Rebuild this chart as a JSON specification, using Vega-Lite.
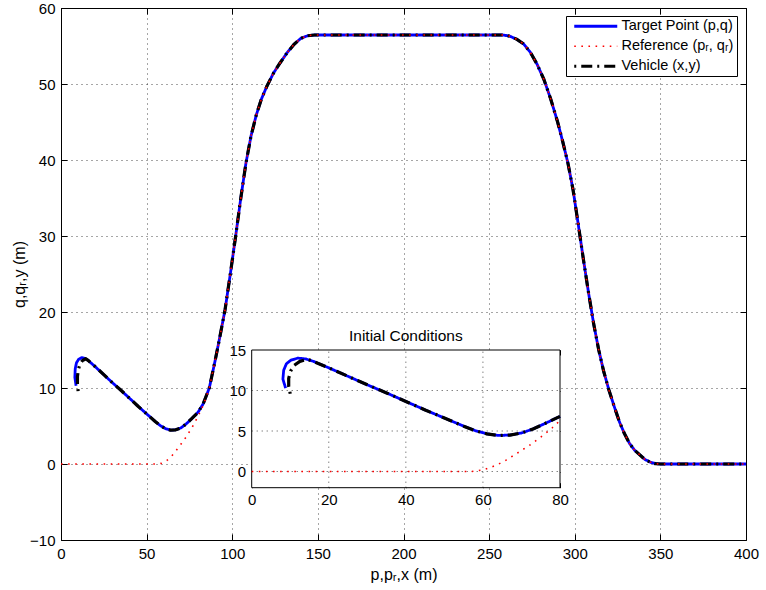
{
  "$schema": "https://vega.github.io/schema/vega-lite/v6.json",
  "width": 685,
  "height": 532,
  "autosize": {"type": "none"},
  "padding": {"left": 61, "top": 8, "right": 20, "bottom": 50},
  "background": "white",
  "config": {
    "font": "Liberation Sans",
    "view": {"stroke": "black", "strokeWidth": 1},
    "axis": {"labelColor": "black", "titleColor": "black", "tickColor": "black", "labelOverlap": false, "labelFlush": false, "titleFontWeight": "normal"}
  },
  "datasets": {
    "main": [
      {"s":"T","t":0,"x":8.8,"y":10.3},{"s":"T","t":1,"x":8.1,"y":11.4},{"s":"T","t":2,"x":8.3,"y":12.5},{"s":"T","t":3,"x":9,"y":13.3},{"s":"T","t":4,"x":10.2,"y":13.75},{"s":"T","t":5,"x":12,"y":14},{"s":"T","t":6,"x":14,"y":13.9},{"s":"T","t":7,"x":16,"y":13.6},{"s":"T","t":8,"x":20,"y":12.8},{"s":"T","t":9,"x":25,"y":11.75},{"s":"T","t":10,"x":30,"y":10.7},{"s":"T","t":11,"x":35,"y":9.7},{"s":"T","t":12,"x":40,"y":8.65},{"s":"T","t":13,"x":45,"y":7.6},{"s":"T","t":14,"x":50,"y":6.6},{"s":"T","t":15,"x":55,"y":5.6},{"s":"T","t":16,"x":58,"y":5.05},{"s":"T","t":17,"x":61,"y":4.65},{"s":"T","t":18,"x":64,"y":4.45},{"s":"T","t":19,"x":67,"y":4.5},{"s":"T","t":20,"x":70,"y":4.75},{"s":"T","t":21,"x":73,"y":5.25},{"s":"T","t":22,"x":76,"y":5.9},{"s":"T","t":23,"x":80,"y":6.8},{"s":"T","t":24,"x":83,"y":7.9},
      {"s":"T","t":25,"x":86.6,"y":10},{"s":"T","t":26,"x":90,"y":13.6},{"s":"T","t":27,"x":93,"y":17},{"s":"T","t":28,"x":95.8,"y":20.3},{"s":"T","t":29,"x":99,"y":25.2},{"s":"T","t":30,"x":102,"y":30},{"s":"T","t":31,"x":105,"y":35},{"s":"T","t":32,"x":108,"y":39.6},{"s":"T","t":33,"x":111,"y":43.2},{"s":"T","t":34,"x":114,"y":45.9},{"s":"T","t":35,"x":117,"y":48},{"s":"T","t":36,"x":120,"y":49.6},{"s":"T","t":37,"x":124,"y":51.4},{"s":"T","t":38,"x":128,"y":52.8},{"s":"T","t":39,"x":132,"y":54.1},{"s":"T","t":40,"x":136,"y":55.2},{"s":"T","t":41,"x":140,"y":56},{"s":"T","t":42,"x":144,"y":56.35},{"s":"T","t":43,"x":148,"y":56.45},{"s":"T","t":44,"x":200,"y":56.45},{"s":"T","t":45,"x":258,"y":56.45},{"s":"T","t":46,"x":262,"y":56.3},{"s":"T","t":47,"x":266,"y":55.9},{"s":"T","t":48,"x":270,"y":55.3},{"s":"T","t":49,"x":274,"y":54.2},{"s":"T","t":50,"x":278,"y":52.6},{"s":"T","t":51,"x":282,"y":50.6},{"s":"T","t":52,"x":286,"y":48},{"s":"T","t":53,"x":290,"y":45},{"s":"T","t":54,"x":293,"y":42.4},{"s":"T","t":55,"x":296,"y":39.6},{"s":"T","t":56,"x":299,"y":36.1},{"s":"T","t":57,"x":302,"y":31.6},{"s":"T","t":58,"x":305,"y":27},{"s":"T","t":59,"x":308,"y":22.6},{"s":"T","t":60,"x":311,"y":18.5},{"s":"T","t":61,"x":314,"y":15},{"s":"T","t":62,"x":317,"y":12.1},{"s":"T","t":63,"x":320,"y":9.7},{"s":"T","t":64,"x":323,"y":7.6},{"s":"T","t":65,"x":326,"y":5.6},{"s":"T","t":66,"x":329,"y":4},{"s":"T","t":67,"x":332,"y":2.7},{"s":"T","t":68,"x":335,"y":1.8},{"s":"T","t":69,"x":338,"y":1.2},{"s":"T","t":70,"x":341,"y":0.6},{"s":"T","t":71,"x":344,"y":0.25},{"s":"T","t":72,"x":347,"y":0.05},{"s":"T","t":73,"x":350,"y":0},{"s":"T","t":74,"x":400,"y":0},

      {"s":"V","t":0,"x":10,"y":9.6},{"s":"V","t":1,"x":9.6,"y":10.5},{"s":"V","t":2,"x":9.6,"y":11.5},{"s":"V","t":3,"x":10.1,"y":12.4},{"s":"V","t":4,"x":11,"y":13.1},{"s":"V","t":5,"x":12.5,"y":13.6},{"s":"V","t":6,"x":14.5,"y":13.85},{"s":"V","t":7,"x":16,"y":13.6},{"s":"V","t":8,"x":20,"y":12.8},{"s":"V","t":9,"x":25,"y":11.75},{"s":"V","t":10,"x":30,"y":10.7},{"s":"V","t":11,"x":35,"y":9.7},{"s":"V","t":12,"x":40,"y":8.65},{"s":"V","t":13,"x":45,"y":7.6},{"s":"V","t":14,"x":50,"y":6.6},{"s":"V","t":15,"x":55,"y":5.6},{"s":"V","t":16,"x":58,"y":5.05},{"s":"V","t":17,"x":61,"y":4.65},{"s":"V","t":18,"x":64,"y":4.45},{"s":"V","t":19,"x":67,"y":4.5},{"s":"V","t":20,"x":70,"y":4.75},{"s":"V","t":21,"x":73,"y":5.25},{"s":"V","t":22,"x":76,"y":5.9},{"s":"V","t":23,"x":80,"y":6.8},{"s":"V","t":24,"x":83,"y":7.9},
      {"s":"V","t":25,"x":86.6,"y":10},{"s":"V","t":26,"x":90,"y":13.6},{"s":"V","t":27,"x":93,"y":17},{"s":"V","t":28,"x":95.8,"y":20.3},{"s":"V","t":29,"x":99,"y":25.2},{"s":"V","t":30,"x":102,"y":30},{"s":"V","t":31,"x":105,"y":35},{"s":"V","t":32,"x":108,"y":39.6},{"s":"V","t":33,"x":111,"y":43.2},{"s":"V","t":34,"x":114,"y":45.9},{"s":"V","t":35,"x":117,"y":48},{"s":"V","t":36,"x":120,"y":49.6},{"s":"V","t":37,"x":124,"y":51.4},{"s":"V","t":38,"x":128,"y":52.8},{"s":"V","t":39,"x":132,"y":54.1},{"s":"V","t":40,"x":136,"y":55.2},{"s":"V","t":41,"x":140,"y":56},{"s":"V","t":42,"x":144,"y":56.35},{"s":"V","t":43,"x":148,"y":56.45},{"s":"V","t":44,"x":200,"y":56.45},{"s":"V","t":45,"x":258,"y":56.45},{"s":"V","t":46,"x":262,"y":56.3},{"s":"V","t":47,"x":266,"y":55.9},{"s":"V","t":48,"x":270,"y":55.3},{"s":"V","t":49,"x":274,"y":54.2},{"s":"V","t":50,"x":278,"y":52.6},{"s":"V","t":51,"x":282,"y":50.6},{"s":"V","t":52,"x":286,"y":48},{"s":"V","t":53,"x":290,"y":45},{"s":"V","t":54,"x":293,"y":42.4},{"s":"V","t":55,"x":296,"y":39.6},{"s":"V","t":56,"x":299,"y":36.1},{"s":"V","t":57,"x":302,"y":31.6},{"s":"V","t":58,"x":305,"y":27},{"s":"V","t":59,"x":308,"y":22.6},{"s":"V","t":60,"x":311,"y":18.5},{"s":"V","t":61,"x":314,"y":15},{"s":"V","t":62,"x":317,"y":12.1},{"s":"V","t":63,"x":320,"y":9.7},{"s":"V","t":64,"x":323,"y":7.6},{"s":"V","t":65,"x":326,"y":5.6},{"s":"V","t":66,"x":329,"y":4},{"s":"V","t":67,"x":332,"y":2.7},{"s":"V","t":68,"x":335,"y":1.8},{"s":"V","t":69,"x":338,"y":1.2},{"s":"V","t":70,"x":341,"y":0.6},{"s":"V","t":71,"x":344,"y":0.25},{"s":"V","t":72,"x":347,"y":0.05},{"s":"V","t":73,"x":350,"y":0},{"s":"V","t":74,"x":400,"y":0},

      {"s":"R","t":0,"x":0,"y":0},{"s":"R","t":1,"x":57,"y":0},{"s":"R","t":2,"x":58.5,"y":0.08},{"s":"R","t":3,"x":60,"y":0.2},{"s":"R","t":4,"x":62,"y":0.5},{"s":"R","t":5,"x":64,"y":0.9},{"s":"R","t":6,"x":66,"y":1.4},{"s":"R","t":7,"x":68,"y":2},{"s":"R","t":8,"x":70,"y":2.6},{"s":"R","t":9,"x":72,"y":3.2},{"s":"R","t":10,"x":74,"y":3.9},{"s":"R","t":11,"x":76,"y":4.6},{"s":"R","t":12,"x":78,"y":5.4},{"s":"R","t":13,"x":80,"y":6.3},{"s":"R","t":14,"x":82,"y":7.2},{"s":"R","t":15,"x":84,"y":8.3},
      {"s":"R","t":25,"x":86.6,"y":10},{"s":"R","t":26,"x":90,"y":13.6},{"s":"R","t":27,"x":93,"y":17},{"s":"R","t":28,"x":95.8,"y":20.3},{"s":"R","t":29,"x":99,"y":25.2},{"s":"R","t":30,"x":102,"y":30},{"s":"R","t":31,"x":105,"y":35},{"s":"R","t":32,"x":108,"y":39.6},{"s":"R","t":33,"x":111,"y":43.2},{"s":"R","t":34,"x":114,"y":45.9},{"s":"R","t":35,"x":117,"y":48},{"s":"R","t":36,"x":120,"y":49.6},{"s":"R","t":37,"x":124,"y":51.4},{"s":"R","t":38,"x":128,"y":52.8},{"s":"R","t":39,"x":132,"y":54.1},{"s":"R","t":40,"x":136,"y":55.2},{"s":"R","t":41,"x":140,"y":56},{"s":"R","t":42,"x":144,"y":56.35},{"s":"R","t":43,"x":148,"y":56.45},{"s":"R","t":44,"x":200,"y":56.45},{"s":"R","t":45,"x":258,"y":56.45},{"s":"R","t":46,"x":262,"y":56.3},{"s":"R","t":47,"x":266,"y":55.9},{"s":"R","t":48,"x":270,"y":55.3},{"s":"R","t":49,"x":274,"y":54.2},{"s":"R","t":50,"x":278,"y":52.6},{"s":"R","t":51,"x":282,"y":50.6},{"s":"R","t":52,"x":286,"y":48},{"s":"R","t":53,"x":290,"y":45},{"s":"R","t":54,"x":293,"y":42.4},{"s":"R","t":55,"x":296,"y":39.6},{"s":"R","t":56,"x":299,"y":36.1},{"s":"R","t":57,"x":302,"y":31.6},{"s":"R","t":58,"x":305,"y":27},{"s":"R","t":59,"x":308,"y":22.6},{"s":"R","t":60,"x":311,"y":18.5},{"s":"R","t":61,"x":314,"y":15},{"s":"R","t":62,"x":317,"y":12.1},{"s":"R","t":63,"x":320,"y":9.7},{"s":"R","t":64,"x":323,"y":7.6},{"s":"R","t":65,"x":326,"y":5.6},{"s":"R","t":66,"x":329,"y":4},{"s":"R","t":67,"x":332,"y":2.7},{"s":"R","t":68,"x":335,"y":1.8},{"s":"R","t":69,"x":338,"y":1.2},{"s":"R","t":70,"x":341,"y":0.6},{"s":"R","t":71,"x":344,"y":0.25},{"s":"R","t":72,"x":347,"y":0.05},{"s":"R","t":73,"x":350,"y":0},{"s":"R","t":74,"x":400,"y":0}
    ]
  },
  "layer": [
    {
      "data": {"name": "main"},
      "encoding": {
        "x": {"field": "x", "type": "quantitative", "scale": {"domain": [0, 400], "nice": false, "zero": false},
          "axis": {"orient": "bottom", "title": "p,pᵣ,x (m)", "values": [0,50,100,150,200,250,300,350,400], "grid": true, "gridDash": [1,4], "gridColor": "black", "gridOpacity": 0.7, "tickSize": -6, "labelPadding": 12, "labelFontSize": 15, "titleFontSize": 16, "titlePadding": 5, "domain": false}},
        "y": {"field": "y", "type": "quantitative", "scale": {"domain": [-10, 60], "nice": false, "zero": false},
          "axis": {"orient": "left", "title": "q,qᵣ,y (m)", "values": [-10,0,10,20,30,40,50,60], "grid": true, "gridDash": [1,4], "gridColor": "black", "gridOpacity": 0.7, "tickSize": -6, "labelPadding": 12, "labelFontSize": 15, "titleFontSize": 16, "titlePadding": 2, "domain": false}},
        "order": {"field": "t", "type": "quantitative"},
        "color": {"field": "s", "type": "nominal", "scale": {"domain": ["T","R","V"], "range": ["#0000ff","#ff0000","#000000"]},
          "legend": {"title": null, "orient": "none", "legendX": 505, "legendY": 8, "fillColor": "white", "strokeColor": "black", "padding": 3, "labelFontSize": 14.5, "labelColor": "black", "symbolType": "M-1,0H4.375", "symbolSize": 256, "symbolOffset": 6, "labelOffset": 32, "rowPadding": 5,
            "labelExpr": "datum.label == 'T' ? 'Target Point (p,q)' : datum.label == 'R' ? 'Reference (pᵣ, qᵣ)' : 'Vehicle (x,y)'",
            "encode": {"symbols": {"update": {"strokeWidth": {"signal": "datum.value == 'R' ? 1.6 : 3"}}}}}},
        "strokeDash": {"field": "s", "type": "nominal", "scale": {"domain": ["T","R","V"], "range": [[1,0],[1.6,5.5],[2,5,11,5]]}, "legend": {"title": null}}
      },
      "layer": [
        {"transform": [{"filter": "datum.s == 'T'"}], "mark": {"type": "line", "strokeWidth": 2.8, "strokeCap": "butt", "strokeJoin": "round"}},
        {"transform": [{"filter": "datum.s == 'V'"}], "mark": {"type": "line", "strokeWidth": 3.2, "strokeCap": "butt", "strokeJoin": "round"}},
        {"transform": [{"filter": "datum.s == 'R'"}], "mark": {"type": "line", "strokeWidth": 1.6, "strokeCap": "butt", "strokeJoin": "round"}}
      ]
    },
    {
      "layer": [
        {
          "data": {"values": [{}]},
          "mark": {"type": "rect", "fill": "white", "stroke": "black", "strokeWidth": 1},
          "encoding": {
            "x": {"datum": 0, "type": "quantitative", "scale": {"domain": [0, 80], "nice": false, "zero": false, "range": [190.7, 499]},
              "axis": {"orient": "bottom", "offset": -52.3, "title": null, "values": [0,20,40,60,80], "grid": false, "tickSize": -5, "labelPadding": 10, "labelFontSize": 15, "domain": false}},
            "x2": {"datum": 80},
            "y": {"datum": -2, "type": "quantitative", "scale": {"domain": [-2, 15], "nice": false, "zero": false, "range": [479.7, 342]},
              "axis": {"orient": "left", "offset": -190.7, "title": null, "values": [0,5,10,15], "grid": false, "tickSize": -5, "labelPadding": 11, "labelFontSize": 15, "domain": false}},
            "y2": {"datum": 15}
          }
        },
        {
          "data": {"values": [{"g": 20}, {"g": 40}, {"g": 60}]},
          "mark": {"type": "rule", "color": "black", "strokeDash": [1,4], "opacity": 0.7},
          "encoding": {"x": {"field": "g", "type": "quantitative"}, "y": {"datum": -2}, "y2": {"datum": 15}}
        },
        {
          "data": {"values": [{"g": 0}, {"g": 5}, {"g": 10}]},
          "mark": {"type": "rule", "color": "black", "strokeDash": [1,4], "opacity": 0.7},
          "encoding": {"y": {"field": "g", "type": "quantitative"}, "x": {"datum": 0}, "x2": {"datum": 80}}
        },
        {
          "data": {"name": "main"},
          "encoding": {
            "x": {"field": "x", "type": "quantitative"},
            "y": {"field": "y", "type": "quantitative"},
            "order": {"field": "t", "type": "quantitative"},
            "color": {"field": "s", "type": "nominal"},
            "strokeDash": {"field": "s", "type": "nominal"}
          },
          "layer": [
            {"transform": [{"filter": "datum.s == 'T' && datum.x <= 80"}], "mark": {"type": "line", "strokeWidth": 2.8, "strokeCap": "butt", "strokeJoin": "round"}},
            {"transform": [{"filter": "datum.s == 'V' && datum.x <= 80"}], "mark": {"type": "line", "strokeWidth": 3.2, "strokeCap": "butt", "strokeJoin": "round"}},
            {"transform": [{"filter": "datum.s == 'R' && datum.x <= 80"}], "mark": {"type": "line", "strokeWidth": 1.6, "strokeCap": "butt", "strokeJoin": "round"}}
          ]
        },
        {
          "data": {"values": [{"label": "Initial Conditions"}]},
          "mark": {"type": "text", "fontSize": 15.5, "baseline": "bottom", "dy": -6, "color": "black"},
          "encoding": {"x": {"datum": 40}, "y": {"datum": 15}, "text": {"field": "label"}}
        }
      ]
    },
    {
      "data": {"values": [{"x": 0, "y": -10}, {"x": 400, "y": 60}]},
      "mark": {"type": "point", "opacity": 0},
      "encoding": {
        "x": {"field": "x", "type": "quantitative", "scale": {"domain": [0, 400], "nice": false, "zero": false},
          "axis": {"orient": "top", "title": null, "values": [0,50,100,150,200,250,300,350,400], "labels": false, "tickSize": -6, "grid": false, "domain": false}},
        "y": {"field": "y", "type": "quantitative", "scale": {"domain": [-10, 60], "nice": false, "zero": false},
          "axis": {"orient": "right", "title": null, "values": [-10,0,10,20,30,40,50,60], "labels": false, "tickSize": -6, "grid": false, "domain": false}}
      }
    },
    {
      "data": {"values": [{"x": 0, "y": -2}, {"x": 80, "y": 15}]},
      "mark": {"type": "point", "opacity": 0},
      "encoding": {
        "x": {"field": "x", "type": "quantitative", "scale": {"domain": [0, 80], "nice": false, "zero": false, "range": [190.7, 499]},
          "axis": {"orient": "top", "offset": -342, "title": null, "values": [0,20,40,60,80], "labels": false, "tickSize": -5, "grid": false, "domain": false}},
        "y": {"field": "y", "type": "quantitative", "scale": {"domain": [-2, 15], "nice": false, "zero": false, "range": [479.7, 342]},
          "axis": {"orient": "right", "offset": -186, "title": null, "values": [0,5,10,15], "labels": false, "tickSize": -5, "grid": false, "domain": false}}
      }
    }
  ],
  "resolve": {"scale": {"x": "independent", "y": "independent"}}
}
